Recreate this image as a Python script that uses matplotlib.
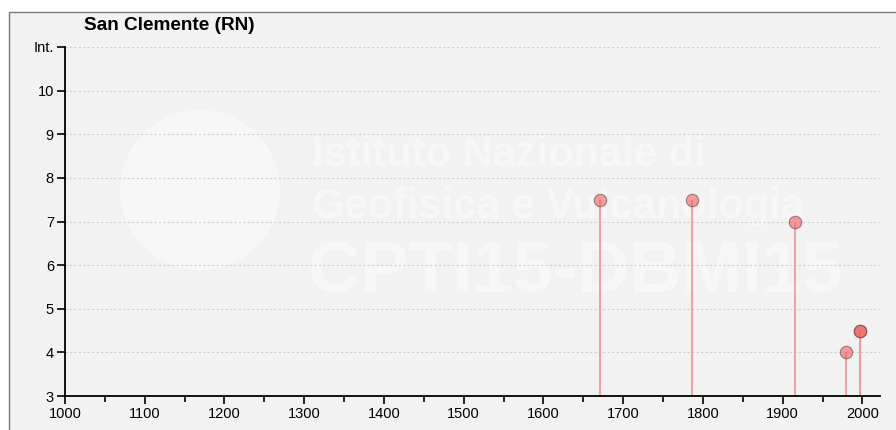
import numpy as np
import matplotlib.pyplot as plt
from matplotlib.patches import Rectangle, Circle

plt.rcParams['font.family'] = ['Liberation Sans', 'DejaVu Sans']

# data
title = 'San Clemente (RN)'
years = [1671, 1786, 1916, 1979, 1997, 1997]
intensity = [7.5, 7.5, 7.0, 4.0, 4.5, 4.5]
x_ticks = [1000, 1100, 1200, 1300, 1400, 1500, 1600, 1700, 1800, 1900, 2000]
y_ticks = [3, 4, 5, 6, 7, 8, 9, 10, 11]
y_tick_labels = ['3', '4', '5', '6', '7', '8', '9', '10', 'Int.']

bg = '#f2f2f2'
fig = plt.figure(figsize=(8.96, 4.3), dpi=100)
fig.patch.set_facecolor('white')
# grey panel with border (starts a bit inside top-left corner)
panel = Rectangle((9 / 896, -0.1), 1.1, (430 - 12) / 430 + 0.1,
                  transform=fig.transFigure, facecolor=bg,
                  edgecolor='#7a7a7a', linewidth=1.0, zorder=-10)
fig.add_artist(panel)

# watermark (logo disc + text)
fig.add_artist(Circle((2.0, 2.4), 0.8, transform=fig.dpi_scale_trans,
                      facecolor='white', alpha=0.4, edgecolor='none', zorder=-5))
wm = dict(transform=fig.transFigure, color='white', alpha=0.45, fontweight='bold', zorder=-5)
fig.text(312 / 896, 1 - 155 / 430, 'Istituto Nazionale di', fontsize=30, va='center', **wm)
fig.text(312 / 896, 1 - 207 / 430, 'Geofisica e Vulcanologia', fontsize=30, va='center', **wm)
fig.text(308 / 896, 1 - 272 / 430, 'CPTI15-DBMI15', fontsize=52, va='center', **wm)

ax = fig.add_axes([65 / 896, 34 / 430, 815 / 896, 349 / 430])
ax.set_facecolor('none')

ax.set_xlim(1000, 2022)
ax.set_ylim(3, 11)

for y in y_ticks[1:]:
    ax.axhline(y, color='#cfcfcf', linestyle=(0, (2, 2)), linewidth=0.8, zorder=1)

ax.vlines(years, 3, intensity, color='#f09a9a', linewidth=1.3, zorder=2)
ax.scatter(years, intensity, s=80, facecolor='#f06060', edgecolor='#6a4040',
           linewidth=0.8, alpha=0.6, zorder=3)

for side in ['top', 'right']:
    ax.spines[side].set_visible(False)
for side in ['left', 'bottom']:
    ax.spines[side].set_color('black')
    ax.spines[side].set_linewidth(1.3)

ax.set_xticks(x_ticks)
ax.set_xticks(np.arange(1050, 2001, 100), minor=True)
ax.set_yticks(y_ticks)
ax.set_yticklabels(y_tick_labels)
ax.tick_params(axis='both', which='major', direction='out', length=6, width=1.2,
               labelsize=10.5, colors='black', pad=2)
ax.tick_params(axis='x', which='minor', direction='out', length=4, width=1.2)

fig.text(84 / 896, 1 - 25 / 430, title, fontsize=13.7, fontweight='bold',
         va='center', ha='left')

fig.savefig('out.png', dpi=100, facecolor=fig.get_facecolor())
